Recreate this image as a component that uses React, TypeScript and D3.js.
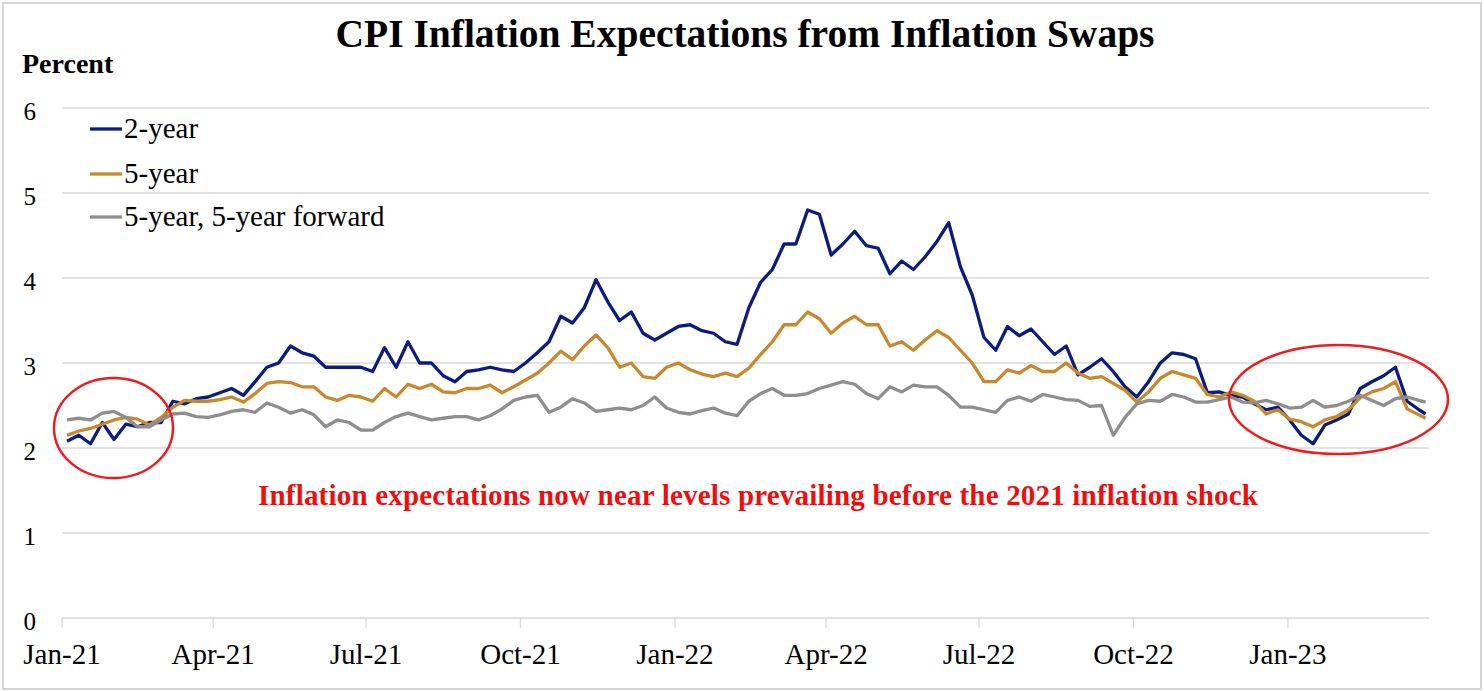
import React, { useEffect, useRef } from 'react';
import * as d3 from 'd3';

// weekly readings (Mondays from 4 Jan 2021), last value is 24 Mar 2023
const twoYear = [
  2.08, 2.15, 2.05, 2.3, 2.1, 2.28, 2.25, 2.3, 2.3, 2.55,
  2.52, 2.58, 2.6, 2.65, 2.7, 2.62, 2.78, 2.95, 3.0, 3.2,
  3.12, 3.08, 2.95, 2.95, 2.95, 2.95, 2.9, 3.18, 2.95, 3.25,
  3.0, 3.0, 2.85, 2.78, 2.9, 2.92, 2.95, 2.92, 2.9, 3.0,
  3.12, 3.25, 3.55, 3.47, 3.65, 3.98, 3.72, 3.5, 3.6, 3.35,
  3.27, 3.35, 3.43, 3.45, 3.38, 3.35, 3.25, 3.22, 3.65, 3.95,
  4.1, 4.4, 4.4, 4.8, 4.75, 4.27, 4.4, 4.55, 4.38, 4.35,
  4.05, 4.2, 4.1, 4.25, 4.43, 4.65, 4.13, 3.8, 3.3, 3.15,
  3.43, 3.32, 3.4, 3.25, 3.1, 3.2, 2.86, 2.95, 3.05, 2.9,
  2.72, 2.6, 2.78, 3.0, 3.12, 3.1, 3.05, 2.65, 2.66, 2.62,
  2.6, 2.52, 2.45, 2.48, 2.33, 2.15, 2.05, 2.27, 2.33, 2.4,
  2.7, 2.78, 2.85, 2.95, 2.55, 2.45,
  2.4
];

const fiveYear = [
  2.15, 2.2, 2.23, 2.28, 2.33, 2.36, 2.34, 2.27, 2.36, 2.48,
  2.56, 2.55, 2.55, 2.57, 2.6, 2.54, 2.64, 2.76, 2.78, 2.77,
  2.72, 2.72, 2.6, 2.56, 2.62, 2.6, 2.55, 2.7, 2.6, 2.75,
  2.7, 2.75, 2.66, 2.65, 2.7, 2.7, 2.74, 2.65, 2.72, 2.8,
  2.88, 3.0, 3.14, 3.04, 3.2, 3.33, 3.18, 2.95, 3.0, 2.84,
  2.82, 2.95, 3.0, 2.92, 2.87, 2.84, 2.88, 2.84, 2.94, 3.1,
  3.25, 3.45, 3.45, 3.6, 3.52, 3.35, 3.47, 3.55, 3.45, 3.45,
  3.2, 3.25, 3.15, 3.27, 3.38, 3.3, 3.15, 3.0, 2.78, 2.78,
  2.92, 2.88, 2.97, 2.9, 2.9, 3.0, 2.88, 2.82, 2.84, 2.76,
  2.68, 2.54, 2.66, 2.82, 2.9, 2.86, 2.82, 2.63, 2.6, 2.66,
  2.62, 2.55, 2.4, 2.45, 2.34, 2.31, 2.25, 2.33, 2.37, 2.45,
  2.59, 2.66, 2.7, 2.78, 2.46, 2.39,
  2.35
];

const fiveFiveFwd = [
  2.33, 2.35, 2.33, 2.41, 2.43, 2.36, 2.25, 2.25, 2.33, 2.4,
  2.41, 2.37, 2.36, 2.39, 2.43, 2.45, 2.42, 2.53, 2.48, 2.41,
  2.45, 2.39, 2.25, 2.33, 2.3, 2.21, 2.21, 2.3, 2.37, 2.41,
  2.37, 2.33, 2.35, 2.37, 2.37, 2.33, 2.38, 2.46, 2.56, 2.6,
  2.62, 2.42, 2.48, 2.58, 2.53, 2.43, 2.45, 2.47, 2.45, 2.5,
  2.6, 2.47, 2.42, 2.4, 2.44, 2.47, 2.41, 2.38, 2.55, 2.64,
  2.7, 2.62, 2.62, 2.64, 2.7, 2.74, 2.78, 2.75, 2.64, 2.58,
  2.72, 2.66, 2.74, 2.72, 2.72, 2.62, 2.48, 2.48, 2.45, 2.42,
  2.56, 2.6, 2.55, 2.63, 2.6, 2.57, 2.56, 2.49, 2.5, 2.15,
  2.36, 2.52, 2.56, 2.55, 2.63, 2.6, 2.54, 2.54, 2.57, 2.6,
  2.54, 2.53, 2.56, 2.52, 2.47, 2.48, 2.56, 2.48, 2.5, 2.55,
  2.62, 2.56, 2.5, 2.58, 2.6, 2.56,
  2.54
];

const seriesNames = ['2-year', '5-year', '5-year, 5-year forward'];
const seriesColors = ['#0a1c80', '#c8882b', '#8e8e8e'];
const yTicks = [0, 1, 2, 3, 4, 5, 6];

const startDate = new Date(2021, 0, 4);
const lastDate = new Date(2023, 2, 24);
const dates = twoYear.map((d, i) =>
  i === twoYear.length - 1 ? lastDate : d3.timeDay.offset(startDate, 7 * i)
);

const FONT = '"Liberation Serif", "Times New Roman", serif';

function App() {
  const ref = useRef(null);

  useEffect(() => {
    document.body.style.margin = '0';
    const svg = d3.select(ref.current);
    svg.selectAll('*').remove();

    const left = 62, right = 1429, top = 108, bottom = 618;

    const x = d3.scaleTime()
      .domain([new Date(2021, 0, 1), new Date(2023, 2, 26)])
      .range([left, right]);
    const y = d3.scaleLinear().domain([0, 6]).range([bottom, top]);

    // outer frame
    svg.append('rect')
      .attr('x', 3).attr('y', 3)
      .attr('width', 1478).attr('height', 686)
      .attr('fill', 'white')
      .attr('stroke', '#d4d4d4')
      .attr('stroke-width', 2);

    // gridlines
    svg.append('g')
      .selectAll('line')
      .data(yTicks)
      .enter()
      .append('line')
      .attr('x1', left).attr('x2', right)
      .attr('y1', d => y(d)).attr('y2', d => y(d))
      .attr('stroke', '#d9d9d9')
      .attr('stroke-width', 1.3);

    // y labels
    svg.append('g')
      .selectAll('text')
      .data(yTicks)
      .enter()
      .append('text')
      .attr('x', 36)
      .attr('y', d => y(d) + 12)
      .attr('text-anchor', 'end')
      .attr('font-family', FONT)
      .attr('font-size', 25)
      .text(d => d);

    // x axis ticks + labels
    const xTicks = d3.timeMonth.range(new Date(2021, 0, 1), new Date(2023, 2, 1), 3);
    const fmt = d3.timeFormat('%b-%y');
    const xg = svg.append('g');
    xg.selectAll('line')
      .data(xTicks)
      .enter()
      .append('line')
      .attr('x1', d => x(d)).attr('x2', d => x(d))
      .attr('y1', bottom).attr('y2', bottom + 10)
      .attr('stroke', '#d9d9d9')
      .attr('stroke-width', 1.3);
    xg.selectAll('text')
      .data(xTicks)
      .enter()
      .append('text')
      .attr('x', d => x(d))
      .attr('y', 664)
      .attr('text-anchor', 'middle')
      .attr('font-family', FONT)
      .attr('font-size', 29)
      .text(d => fmt(d));

    // series
    const allSeries = [twoYear, fiveYear, fiveFiveFwd];
    const line = d3.line()
      .x((d, i) => x(dates[i]))
      .y(d => y(d));

    allSeries.forEach((s, i) => {
      svg.append('path')
        .datum(s)
        .attr('d', line)
        .attr('fill', 'none')
        .attr('stroke', seriesColors[i])
        .attr('stroke-width', 3.3)
        .attr('stroke-linejoin', 'round');
    });

    // legend
    const lg = svg.append('g');
    const legendY = [129, 174, 217];
    seriesNames.forEach((name, i) => {
      lg.append('line')
        .attr('x1', 90).attr('x2', 122)
        .attr('y1', legendY[i]).attr('y2', legendY[i])
        .attr('stroke', seriesColors[i])
        .attr('stroke-width', 3.3);
      lg.append('text')
        .attr('x', 124)
        .attr('y', legendY[i] + 9)
        .attr('font-family', FONT)
        .attr('font-size', 29)
        .text(name);
    });

    // ellipses
    svg.append('ellipse')
      .attr('cx', 113.5).attr('cy', 428)
      .attr('rx', 59.5).attr('ry', 50)
      .attr('fill', 'none')
      .attr('stroke', '#ee1c1c')
      .attr('stroke-width', 2.5);
    svg.append('ellipse')
      .attr('cx', 1338.5).attr('cy', 399.5)
      .attr('rx', 109.5).attr('ry', 54.5)
      .attr('fill', 'none')
      .attr('stroke', '#ee1c1c')
      .attr('stroke-width', 2.5);

    // annotation
    svg.append('text')
      .attr('x', 258)
      .attr('y', 505)
      .attr('textLength', 1000)
      .attr('lengthAdjust', 'spacing')
      .attr('font-family', FONT)
      .attr('font-weight', 'bold')
      .attr('font-size', 29)
      .attr('fill', '#f20d0d')
      .text('Inflation expectations now near levels prevailing before the 2021 inflation shock');

    // title
    svg.append('text')
      .attr('x', 745)
      .attr('y', 47)
      .attr('text-anchor', 'middle')
      .attr('font-family', FONT)
      .attr('font-weight', 'bold')
      .attr('font-size', 39.5)
      .text('CPI Inflation Expectations from Inflation Swaps');

    svg.append('text')
      .attr('x', 22)
      .attr('y', 73)
      .attr('font-family', FONT)
      .attr('font-weight', 'bold')
      .attr('font-size', 28)
      .text('Percent');
  }, []);

  return <svg ref={ref} width={1484} height={691} style={{ display: 'block' }}></svg>;
}

export default App;
